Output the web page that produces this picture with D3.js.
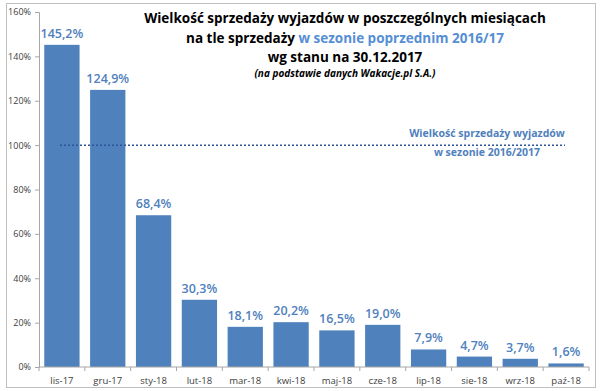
<!DOCTYPE html>
<html>
<head>
<meta charset="utf-8">
<script src="https://cdn.jsdelivr.net/npm/d3@7"></script>
<style>
  body { margin: 0; background: #fff; }
  text { font-family: "Open Sans", "Liberation Sans", sans-serif; }
</style>
</head>
<body>
<div class="canvas"></div>
<script>
// months and share of last season's sales (%)
const months = ['lis-17','gru-17','sty-18','lut-18','mar-18','kwi-18','maj-18','cze-18','lip-18','sie-18','wrz-18','paź-18'];
const values = [145.2, 124.9, 68.4, 30.3, 18.1, 20.2, 16.5, 19.0, 7.9, 4.7, 3.7, 1.6];
const yTicks = [0, 20, 40, 60, 80, 100, 120, 140, 160];
const reference = 100;

const width = 600, height = 391;
const margin = {top: 12, right: 10, bottom: 24, left: 39};
const graphWidth = 589 - margin.left;
const graphHeight = 367 - margin.top;

const svg = d3.select('.canvas')
  .append('svg')
    .attr('width', width)
    .attr('height', height);

// outer frame
svg.append('rect')
  .attr('x', 6.5).attr('y', 3.5)
  .attr('width', 589).attr('height', 384)
  .attr('fill', 'none')
  .attr('stroke', '#bfbfbf');

const graph = svg.append('g')
  .attr('transform', `translate(${margin.left}, ${margin.top})`);

const x = d3.scaleBand()
  .domain(months)
  .range([0, graphWidth])
  .paddingInner(0.23)
  .paddingOuter(0.115);

const y = d3.scaleLinear()
  .domain([0, 160])
  .range([graphHeight, 0]);

// bars
graph.selectAll('rect.bar')
  .data(values)
  .enter()
  .append('rect')
    .attr('class', 'bar')
    .attr('x', (d, i) => x(months[i]))
    .attr('y', d => y(d))
    .attr('width', x.bandwidth())
    .attr('height', d => graphHeight - y(d))
    .attr('fill', '#4f81bd');

// value labels
graph.selectAll('text.val')
  .data(values)
  .enter()
  .append('text')
    .attr('class', 'val')
    .attr('x', (d, i) => x(months[i]) + x.bandwidth() / 2)
    .attr('y', d => y(d) - 7)
    .attr('text-anchor', 'middle')
    .attr('fill', '#4f81bd')
    .attr('font-size', 12.5)
    .attr('font-weight', 600)
    .text(d => d.toFixed(1).replace('.', ',') + '%');

// axes
const yAxis = d3.axisLeft(y)
  .tickValues(yTicks)
  .tickSize(4)
  .tickFormat(d => d + '%');
const yAxisGroup = graph.append('g').call(yAxis);
yAxisGroup.select('.domain').attr('stroke', '#a6a6a6');
yAxisGroup.selectAll('.tick line').attr('stroke', '#a6a6a6');
yAxisGroup.selectAll('.tick text')
  .attr('font-size', 9)
  .attr('fill', '#404040')
  .attr('x', -8);

const xAxisGroup = graph.append('g')
  .attr('transform', `translate(0, ${graphHeight})`);
xAxisGroup.append('line')
  .attr('x1', 0).attr('x2', graphWidth)
  .attr('stroke', '#a6a6a6');
const step = x.step();
const x0 = x(months[0]) - x.paddingInner() * step / 2;
xAxisGroup.selectAll('line.tk')
  .data(d3.range(months.length + 1))
  .enter()
  .append('line')
    .attr('class', 'tk')
    .attr('x1', i => x0 + i * step)
    .attr('x2', i => x0 + i * step)
    .attr('y1', 0).attr('y2', 4)
    .attr('stroke', '#a6a6a6');
xAxisGroup.selectAll('text')
  .data(months)
  .enter()
  .append('text')
    .attr('x', d => x(d) + x.bandwidth() / 2)
    .attr('y', 17)
    .attr('text-anchor', 'middle')
    .attr('font-size', 9.5)
    .attr('fill', '#404040')
    .text(d => d);

// reference line 100%
graph.append('line')
  .attr('x1', 21).attr('x2', 526)
  .attr('y1', y(reference)).attr('y2', y(reference))
  .attr('stroke', '#2e5597')
  .attr('stroke-width', 1.5)
  .attr('stroke-dasharray', '2,2');

const refLabel = graph.append('text')
  .attr('text-anchor', 'middle')
  .attr('fill', '#4f81bd')
  .attr('font-size', 10.5)
  .attr('font-weight', 'bold');
refLabel.append('tspan').attr('x', 448).attr('y', y(reference) - 8).text('Wielkość sprzedaży wyjazdów');
refLabel.append('tspan').attr('x', 448).attr('y', y(reference) + 11).text('w sezonie 2016/2017');

// title
const title = svg.append('text')
  .attr('text-anchor', 'middle')
  .attr('font-weight', 'bold')
  .attr('font-size', 13.5)
  .attr('fill', '#000');
title.append('tspan').attr('x', 345).attr('y', 23)
  .text('Wielkość sprzedaży wyjazdów w poszczególnych miesiącach');
const l2 = title.append('tspan').attr('x', 345).attr('y', 43);
l2.append('tspan').text('na tle sprzedaży ');
l2.append('tspan').attr('fill', '#558ed5').text('w sezonie poprzednim 2016/17');
title.append('tspan').attr('x', 345).attr('y', 62).text('wg stanu na 30.12.2017');

svg.append('text')
  .attr('x', 345).attr('y', 77)
  .attr('text-anchor', 'middle')
  .attr('font-style', 'italic')
  .attr('font-weight', 'bold')
  .attr('font-size', 10)
  .text('(na podstawie danych Wakacje.pl S.A.)');
</script>
</body>
</html>
